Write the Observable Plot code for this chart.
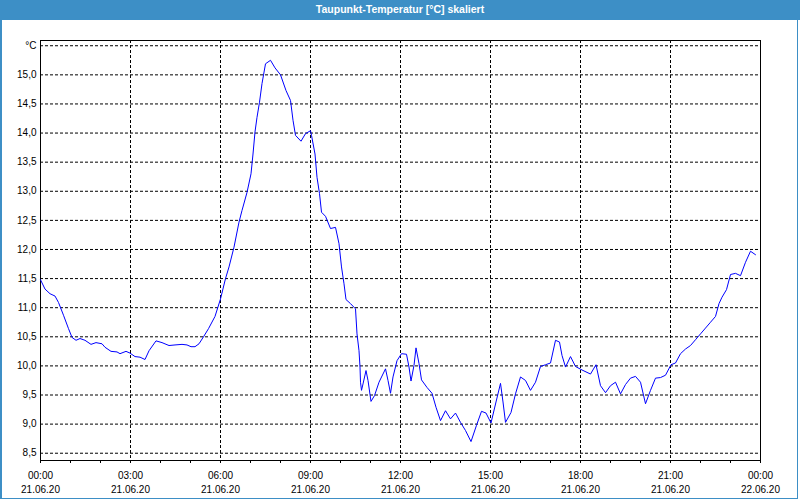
<!DOCTYPE html>
<html>
<head>
<meta charset="utf-8">
<script src="https://cdn.jsdelivr.net/npm/d3@7"></script>
<script src="https://cdn.jsdelivr.net/npm/@observablehq/plot@0.6"></script>
<style>
  html, body { margin: 0; padding: 0; background: #fff; }
  #frame { position: absolute; left: 0; top: 0; width: 798px; height: 499px; box-sizing: border-box;
           border-left: 2px solid #3d8fc6; border-right: 1px solid #3d8fc6; border-bottom: 1px solid #3d8fc6; }
  #title { position: absolute; left: 0; top: 0; width: 800px; height: 20px; background: #3d8fc6;
           color: #fff; font: bold 10.5px "Liberation Sans", Arial, sans-serif; text-align: center; line-height: 18px; }
  #chart { position: absolute; left: 0; top: 20px; }
</style>
</head>
<body>
<div id="frame"></div>
<div id="title">Taupunkt-Temperatur [°C] skaliert</div>
<div id="chart"></div>
<script>
const day = "2020-06-21";
const times = ["00:00","00:09","00:19","00:29","00:36","00:46","00:56","01:03","01:11","01:19","01:29","01:41","01:51","02:03","02:09","02:21","02:33","02:39","02:51","02:59","03:09","03:19","03:29","03:37","03:51","04:03","04:17","04:29","04:43","04:53","05:01","05:09","05:17","05:26","05:36","05:49","06:00","06:10","06:17","06:27","06:37","06:43","06:53","07:01","07:05","07:09","07:13","07:18","07:23","07:30","07:40","07:49","08:00","08:11","08:20","08:25","08:30","08:41","08:50","09:00","09:02","09:09","09:13","09:18","09:22","09:30","09:40","09:50","09:57","10:02","10:07","10:11","10:20","10:30","10:33","10:37","10:39","10:40","10:42","10:45","10:51","10:55","11:01","11:08","11:17","11:30","11:35","11:40","11:45","11:53","12:02","12:12","12:17","12:21","12:27","12:31","12:37","12:42","12:53","13:03","13:11","13:20","13:30","13:40","13:50","14:00","14:10","14:21","14:32","14:42","14:51","15:01","15:11","15:20","15:25","15:30","15:41","15:50","16:00","16:10","16:20","16:30","16:40","16:50","17:00","17:10","17:18","17:23","17:30","17:40","17:50","18:03","18:20","18:31","18:40","18:50","19:00","19:10","19:20","19:30","19:40","19:50","20:00","20:10","20:20","20:30","20:40","20:50","21:01","21:10","21:20","21:30","21:40","21:50","22:00","22:10","22:20","22:30","22:37","22:43","22:52","23:00","23:10","23:20","23:30","23:40","23:50"];
const values = [11.48,11.32,11.24,11.20,11.09,10.87,10.64,10.49,10.44,10.47,10.44,10.37,10.40,10.38,10.32,10.25,10.24,10.21,10.25,10.22,10.16,10.15,10.11,10.26,10.43,10.40,10.35,10.36,10.37,10.36,10.33,10.33,10.38,10.50,10.64,10.85,11.15,11.50,11.70,12.04,12.47,12.67,12.98,13.30,13.64,14.02,14.27,14.53,14.85,15.19,15.25,15.12,15.00,14.73,14.56,14.22,13.96,13.86,13.99,14.04,13.96,13.64,13.24,12.96,12.64,12.57,12.36,12.38,12.10,11.70,11.41,11.14,11.07,10.98,10.55,10.26,9.98,9.72,9.58,9.69,9.92,9.75,9.39,9.49,9.72,9.95,9.75,9.53,9.81,10.09,10.21,10.20,9.98,9.74,10.01,10.31,10.04,9.76,9.63,9.53,9.29,9.06,9.23,9.09,9.19,9.03,8.89,8.70,8.98,9.22,9.19,9.02,9.38,9.70,9.38,9.03,9.20,9.52,9.81,9.75,9.58,9.72,9.99,10.02,10.05,10.44,10.41,10.18,9.98,10.16,9.99,9.93,9.86,10.02,9.66,9.54,9.66,9.72,9.52,9.68,9.79,9.82,9.72,9.35,9.58,9.79,9.80,9.84,10.02,10.05,10.21,10.29,10.35,10.45,10.55,10.65,10.75,10.85,11.07,11.18,11.31,11.57,11.59,11.55,11.78,11.97,11.91];
const yTicks = [8.5,9,9.5,10,10.5,11,11.5,12,12.5,13,13.5,14,14.5,15,15.5];
const yUnitLabel = "°C";

const parse = d3.utcParse("%Y-%m-%d %H:%M");
const data = times.map((t, i) => ({time: parse(day + " " + t), value: values[i]}));
const x0 = parse(day + " 00:00");
const x1 = d3.utcDay.offset(x0, 1);
const majorTicks = d3.utcHour.every(3).range(x0, d3.utcHour.offset(x1, 1));
const minorTicks = d3.utcHour.every(1).range(x0, d3.utcHour.offset(x1, 1));
const fmtT = d3.utcFormat("%H:%M"), fmtD = d3.utcFormat("%d.%m.%y");

const chart = Plot.plot({
  width: 800,
  height: 480,
  marginTop: 20,
  marginLeft: 40,
  marginRight: 40,
  marginBottom: 40,
  style: {fontFamily: "'Liberation Sans', Arial, sans-serif", fontSize: "10px", color: "#000", background: "transparent"},
  x: {type: "utc", domain: [x0, x1]},
  y: {domain: [8.375, 15.59]},
  marks: [
    Plot.gridY(yTicks, {stroke: "#000", strokeOpacity: 1, strokeDasharray: "3,2"}),
    Plot.gridX(majorTicks, {stroke: "#000", strokeOpacity: 1, strokeDasharray: "3,2"}),
    Plot.axisY(yTicks, {tickSize: 0, tickPadding: 4, label: null,
      tickFormat: d => d === 15.5 ? yUnitLabel : d.toFixed(1).replace(".", ",")}),
    Plot.axisX(minorTicks, {tickSize: 3, tickFormat: null, text: null, label: null}),
    Plot.axisX(majorTicks, {tickSize: 3, tickPadding: 6, label: null, lineHeight: 1.4,
      tickFormat: d => fmtT(d) + "\n" + fmtD(d)}),
    Plot.frame({stroke: "#000"}),
    Plot.line(data, {x: "time", y: "value", stroke: "#0000ff", strokeWidth: 1})
  ]
});
document.getElementById("chart").appendChild(chart);
</script>
</body>
</html>
